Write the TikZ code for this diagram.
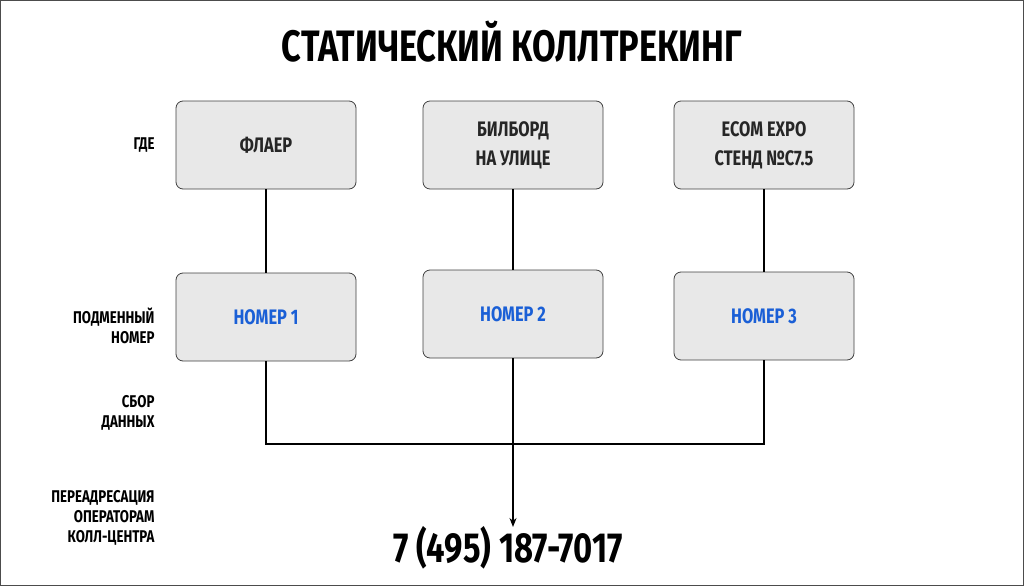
\documentclass[tikz,border=0pt]{standalone}
\usepackage{fontspec}
\setmainfont[FakeStretch=0.78]{Fira Sans Bold}
\usetikzlibrary{arrows.meta}
\definecolor{boxfill}{HTML}{E8E8E8}
\definecolor{blue1}{HTML}{1A5FD6}
\begin{document}
\begin{tikzpicture}[x=1pt,y=-1pt,
  card/.style={draw=black!75,fill=boxfill,rounded corners=7pt,minimum width=180pt,minimum height=88pt,line width=0.8pt,align=center,font=\fontsize{21}{29}\selectfont,text=black!85},
  lbl/.style={anchor=east,align=right,font=\fontsize{17}{20}\selectfont},
  ln/.style={line width=1.3pt}]
\draw[black!70,line width=1pt] (0.5,0.5) rectangle (1023.5,585.5);
\node (title) at (512,42) {\fontsize{44}{50}\selectfont СТАТИЧЕСКИЙ КОЛЛТРЕКИНГ};
\node[card] (a1) at (266,145) {ФЛАЕР};
\node[card] (a2) at (513,145) {БИЛБОРД\\НА УЛИЦЕ};
\node[card] (a3) at (764,145) {ECOM EXPO\\СТЕНД №C7.5};
\node[card,text=blue1] (b1) at (266,317) {НОМЕР 1};
\node[card,text=blue1] (b2) at (513,314) {НОМЕР 2};
\node[card,text=blue1] (b3) at (764,316) {НОМЕР 3};
\node[lbl] (l1) at (158,145) {ГДЕ};
\node[lbl] (l2) at (158,326) {ПОДМЕННЫЙ\\НОМЕР};
\node[lbl] (l3) at (158,413) {СБОР\\ДАННЫХ};
\node[lbl] (l4) at (158,518) {ПЕРЕАДРЕСАЦИЯ\\ОПЕРАТОРАМ\\КОЛЛ-ЦЕНТРА};
\node (num) at (508,548) {\fontsize{42}{48}\selectfont 7 (495) 187-7017};
\coordinate (j) at (513,444);
\draw[ln] (a1) -- (b1);
\draw[ln] (a2) -- (b2);
\draw[ln] (a3) -- (b3);
\draw[ln] (b1.south) |- (j) -| (b3.south);
\draw[ln,-{Stealth[length=9pt,width=7pt]}] (b2.south) -- (513,527);
\end{tikzpicture}
\end{document}
